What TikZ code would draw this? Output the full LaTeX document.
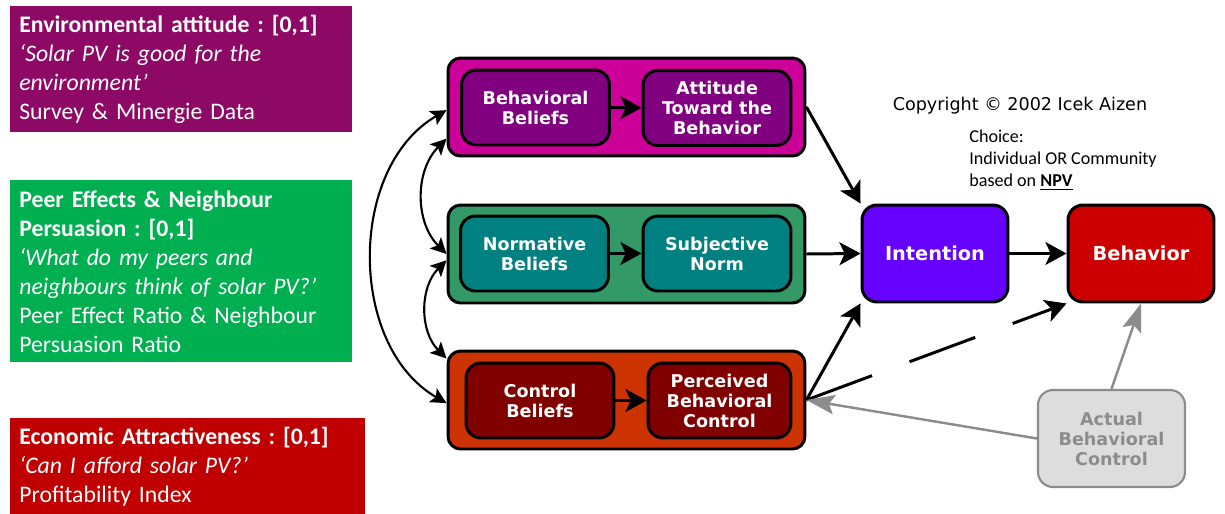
\documentclass[tikz,border=0pt]{standalone}
\usepackage{fontspec}
\setmainfont{Carlito}
\newfontfamily\aizenfont{DejaVu Sans}
\usetikzlibrary{arrows.meta}
\frenchspacing

\definecolor{envpurple}{RGB}{142,8,102}
\definecolor{peergreen}{RGB}{0,176,80}
\definecolor{econred}{RGB}{192,0,0}
\definecolor{attgroup}{RGB}{204,0,153}
\definecolor{attinner}{RGB}{128,0,128}
\definecolor{normgroup}{RGB}{51,153,102}
\definecolor{norminner}{RGB}{0,128,128}
\definecolor{ctrlgroup}{RGB}{204,51,0}
\definecolor{ctrlinner}{RGB}{128,0,0}
\definecolor{intentblue}{RGB}{102,0,255}
\definecolor{behavred}{RGB}{204,0,0}
\definecolor{actualfill}{RGB}{221,221,221}
\definecolor{actualgray}{RGB}{140,140,140}

\tikzset{
  infobox/.style={anchor=north west, inner xsep=0.18cm, inner ysep=0pt,
    align=left, text=white, font=\fontsize{13.5}{16.5}\selectfont},
  groupbox/.style={draw, line width=1.7pt, rounded corners=0.25cm,
    minimum width=7.14cm, minimum height=1.96cm},
  beliefbox/.style={draw, line width=1.7pt, rounded corners=0.3cm,
    minimum width=2.96cm, minimum height=1.5cm, inner sep=0pt, align=center,
    text=white, font=\aizenfont\bfseries\fontsize{10}{11.4}\selectfont},
  mainbox/.style={draw, line width=1.7pt, rounded corners=0.3cm,
    minimum width=2.92cm, minimum height=1.94cm, inner sep=0pt, align=center,
    text=white, font=\aizenfont\bfseries\fontsize{11}{13}\selectfont},
  arr/.style={-{Stealth[length=12pt,width=13pt,inset=3pt]}, line width=1.7pt},
  dblarr/.style={{Stealth[length=9pt,width=9pt,inset=2pt]}-{Stealth[length=9pt,width=9pt,inset=2pt]},
    line width=1.2pt},
  grayarr/.style={-{Stealth[length=16pt,width=11pt,inset=3pt]}, line width=1.4pt,
    draw=actualgray, fill=actualgray},
}

\begin{document}
\begin{tikzpicture}[x=0.02cm, y=-0.02cm]
  \useasboundingbox (0,0) rectangle (1225,514);

  % factor boxes on the left
  \node[infobox, fill=envpurple, text width=6.48cm, minimum height=2.52cm]
    (envbox) at (10,6)
    {\textbf{Environmental attitude : [0,1]}\\
     \textit{`Solar PV is good for the}\\
     \textit{environment'}\\
     Survey \& Minergie Data};
  \node[infobox, fill=peergreen, text width=6.48cm, minimum height=3.64cm]
    (peerbox) at (10,180)
    {\textbf{Peer Effects \& Neighbour}\\
     \textbf{Persuasion : [0,1]}\\
     \textit{`What do my peers and}\\
     \textit{neighbours think of solar PV?'}\\
     Peer Effect Ratio \& Neighbour\\
     Persuasion Ratio};
  \node[infobox, fill=econred, text width=6.74cm, minimum height=1.92cm]
    (econbox) at (10,418)
    {\textbf{Economic Attractiveness : [0,1]}\\
     \textit{`Can I afford solar PV?'}\\
     Profitability Index};

  % theory of planned behavior
  \node[groupbox, fill=attgroup] (attitudes) at (626.5,107) {};
  \node[groupbox, fill=normgroup] (norms) at (626.5,254) {};
  \node[groupbox, fill=ctrlgroup] (control) at (626.5,400) {};

  \node[beliefbox, fill=attinner] (bbeliefs) at (535.5,107.5) {Behavioral\\Beliefs};
  \node[beliefbox, fill=attinner] (attitude) at (717,108) {Attitude\\Toward the\\Behavior};
  \node[beliefbox, fill=norminner] (nbeliefs) at (534.5,253.5) {Normative\\Beliefs};
  \node[beliefbox, fill=norminner] (subnorm) at (717,253.5) {Subjective\\Norm};
  \node[beliefbox, fill=ctrlinner] (cbeliefs) at (540,400.5) {Control\\Beliefs};
  \node[beliefbox, fill=ctrlinner, minimum width=2.86cm] (pbc) at (719.5,400.5)
    {Perceived\\Behavioral\\Control};

  \node[mainbox, fill=intentblue] (intention) at (935,253.5) {Intention};
  \node[mainbox, fill=behavred] (behavior) at (1141,253.5) {Behavior};
  \node[mainbox, fill=actualfill, draw=actualgray, line width=1.2pt,
    text=actualgray, minimum width=2.94cm,
    font=\aizenfont\bfseries\fontsize{10}{11.4}\selectfont] (abc) at (1111.5,438.5)
    {Actual\\Behavioral\\Control};

  \node[font=\aizenfont\fontsize{10}{12}\selectfont] (copyright) at (1020,106)
    {Copyright © 2002 Icek Aizen};
  \node[anchor=west, align=left, inner sep=0pt,
    font=\fontsize{10.3}{12.5}\selectfont] (choice) at (969,160)
    {Choice:\\Individual OR Community\\based on \textbf{\underline{NPV}}};

  % connectors
  \draw[arr] (bbeliefs) -- (attitude);
  \draw[arr] (nbeliefs) -- (subnorm);
  \draw[arr] (cbeliefs) -- (pbc);
  \draw[arr] (attitudes.east) -- (intention.north west);
  \draw[arr] (norms.east) -- (intention.west);
  \draw[arr] (control.east) -- (intention.south west);
  \draw[arr] (intention.east) -- (behavior.west);
  \draw[arr, dash pattern=on 1.4cm off 0.8cm] (control.east) -- (behavior.south west);
  \draw[grayarr] (abc.west) -- (control.east);
  \draw[grayarr] (abc.north) -- (behavior.south);

  \draw[dblarr] (attitudes.181) to[out=210, in=150] (control.181);
  \draw[dblarr] (attitudes.190) to[out=225, in=135] (norms.west);
  \draw[dblarr] (norms.182) to[out=225, in=135] (control.167);
\end{tikzpicture}
\end{document}
